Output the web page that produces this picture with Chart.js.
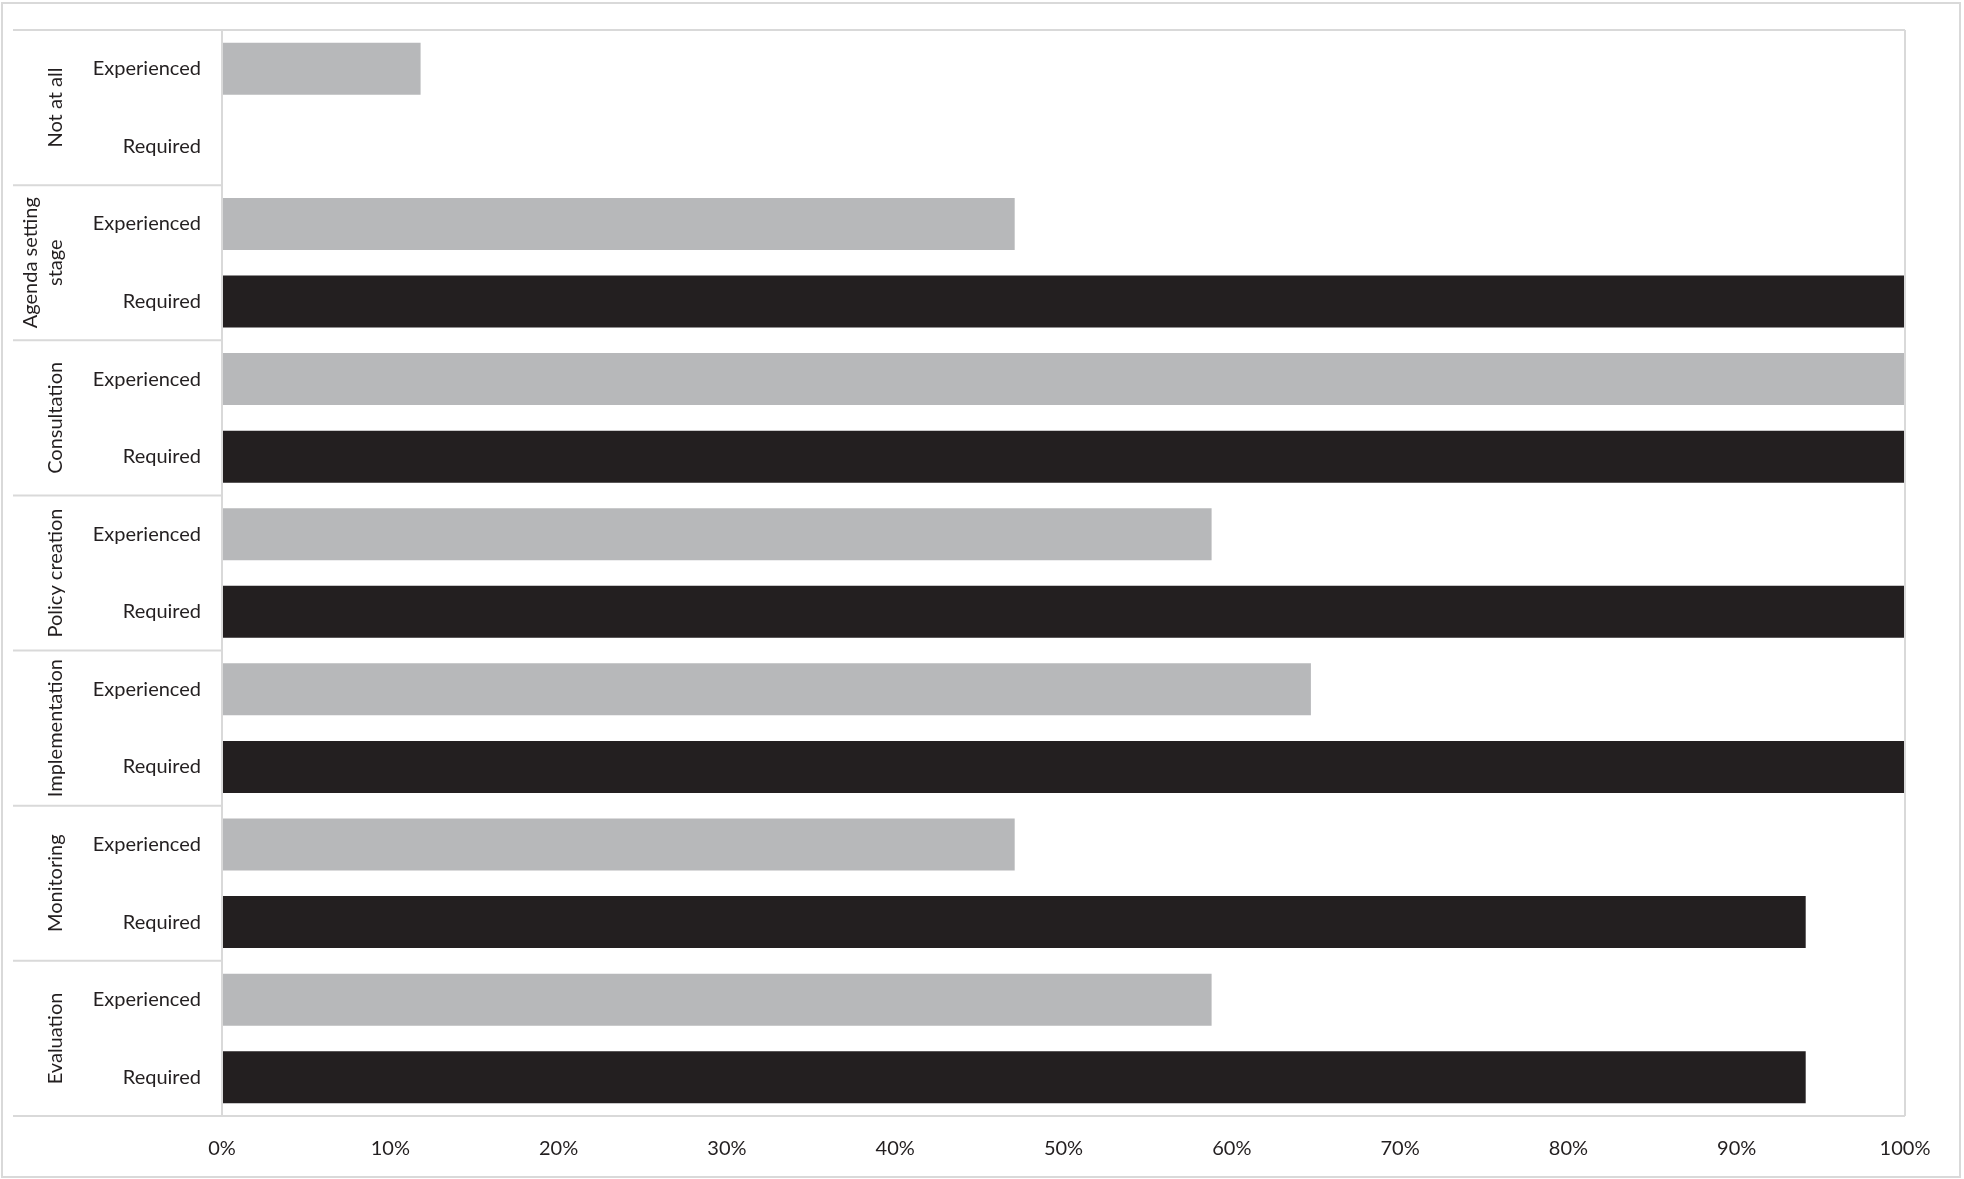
<!DOCTYPE html>
<html>
<head>
<meta charset="utf-8">
<script src="https://cdn.jsdelivr.net/npm/chart.js@4.4.1/dist/chart.umd.min.js"></script>
<style>
  html, body { margin: 0; padding: 0; background: #fff; }
  #wrap { position: relative; width: 1964px; height: 1179px; }
</style>
</head>
<body>
<div id="wrap"><canvas id="chart"></canvas></div>
<script>
// data (n = 17 respondents, so values are x/17)
const groups = [['Not at all'], ['Agenda setting', 'stage'], ['Consultation'], ['Policy creation'], ['Implementation'], ['Monitoring'], ['Evaluation']];
const rowLabels = ['Experienced', 'Required'];
const experienced = [11.8, 47.1, 100, 58.8, 64.7, 47.1, 58.8];
const required = [0, 100, 100, 100, 100, 94.1, 94.1];
const xTicks = [0, 10, 20, 30, 40, 50, 60, 70, 80, 90, 100];

const FONT = 'Lato, "Open Sans", sans-serif';
const LINE = '#d9d9d9';

// one category per row, two rows per group
const labels = [];
const expData = [];
const reqData = [];
groups.forEach((g, i) => {
    labels.push(rowLabels[0], rowLabels[1]);
    expData.push(experienced[i], null);
    reqData.push(null, required[i]);
});

const frame = {
    id: 'frame',
    beforeDraw(chart) {
        const ctx = chart.ctx;
        ctx.save();
        ctx.fillStyle = '#fff';
        ctx.fillRect(0, 0, chart.width, chart.height);
        ctx.strokeStyle = LINE;
        ctx.lineWidth = 2;
        ctx.strokeRect(2, 3, 1958, 1174);
        ctx.restore();
    },
    afterDraw(chart) {
        const { ctx, chartArea: a } = chart;
        const y = chart.scales.y;
        const left = 13;
        ctx.save();
        ctx.strokeStyle = LINE;
        ctx.lineWidth = 2;
        ctx.beginPath();
        // frame round the plot and the label column
        ctx.moveTo(left, a.top); ctx.lineTo(a.right, a.top);
        ctx.moveTo(left, a.bottom); ctx.lineTo(a.right, a.bottom);
        ctx.moveTo(a.right, a.top); ctx.lineTo(a.right, a.bottom);
        ctx.moveTo(a.left, a.top); ctx.lineTo(a.left, a.bottom);
        // separators between groups
        for (let g = 1; g < groups.length; g++) {
            const py = y.getPixelForValue(2 * g - 0.5);
            ctx.moveTo(left, py); ctx.lineTo(a.left, py);
        }
        ctx.stroke();

        // rotated group labels
        ctx.fillStyle = '#231f20';
        ctx.font = '20px ' + FONT;
        ctx.textAlign = 'center';
        ctx.textBaseline = 'middle';
        groups.forEach((lines, g) => {
            const cy = y.getPixelForValue(2 * g + 0.5);
            ctx.save();
            ctx.translate(56, cy);
            ctx.rotate(-Math.PI / 2);
            lines.forEach((t, k) => {
                ctx.fillText(t, 0, (k - (lines.length - 1)) * 25);
            });
            ctx.restore();
        });
        ctx.restore();
    }
};

new Chart(document.getElementById('chart'), {
    type: 'bar',
    data: {
        labels: labels,
        datasets: [
            {
                label: 'Experienced',
                data: expData,
                backgroundColor: '#b7b8ba',
                grouped: false,
                categoryPercentage: 1,
                barPercentage: 0.67
            },
            {
                label: 'Required',
                data: reqData,
                backgroundColor: '#231f20',
                grouped: false,
                categoryPercentage: 1,
                barPercentage: 0.67
            }
        ]
    },
    options: {
        indexAxis: 'y',
        responsive: true,
        maintainAspectRatio: false,
        animation: false,
        layout: { padding: { left: 13, top: 30, right: 59, bottom: 0 } },
        plugins: {
            legend: { display: false },
            tooltip: { enabled: false }
        },
        scales: {
            x: {
                min: 0,
                max: 100,
                afterBuildTicks: (scale) => { scale.ticks = xTicks.map(v => ({ value: v })); },
                afterFit: (scale) => {
                    scale.height = 63;
                    scale.paddingLeft = 0;
                    scale.paddingRight = 0;
                },
                grid: { display: false, drawTicks: false },
                border: { display: false },
                ticks: {
                    padding: 21,
                    color: '#231f20',
                    font: { family: FONT, size: 20 },
                    callback: (v) => v + '%'
                }
            },
            y: {
                afterFit: (scale) => {
                    scale.width = 209;
                    scale.paddingTop = 0;
                    scale.paddingBottom = 0;
                },
                grid: { display: false, drawTicks: false },
                border: { display: false },
                ticks: {
                    padding: 21,
                    color: '#231f20',
                    font: { family: FONT, size: 20 }
                }
            }
        }
    },
    plugins: [frame]
});
</script>
</body>
</html>
